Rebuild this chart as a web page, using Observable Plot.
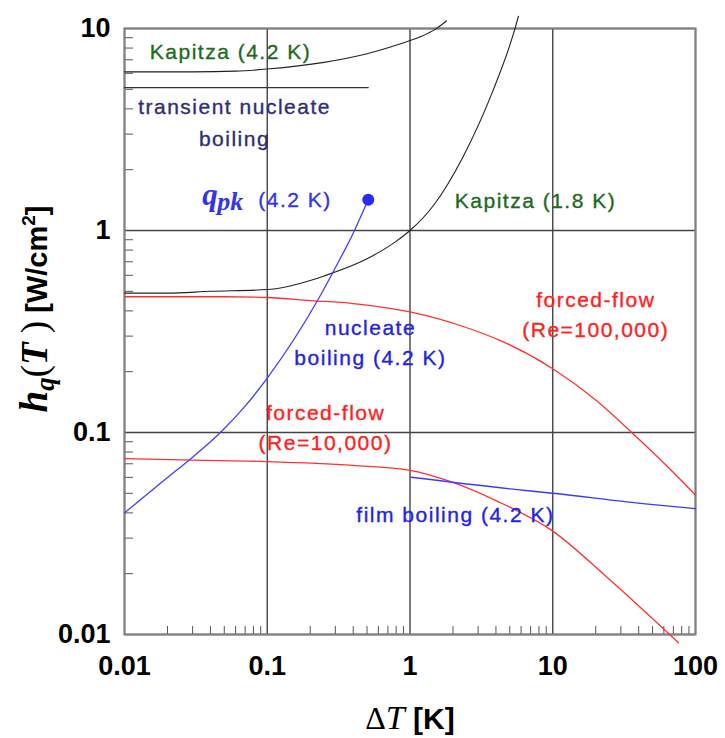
<!DOCTYPE html>
<html><head><meta charset="utf-8">
<script src="https://cdn.jsdelivr.net/npm/d3@7"></script>
<script src="https://cdn.jsdelivr.net/npm/@observablehq/plot@0.6"></script>
<style>
body{margin:0;background:#fff;}
#chart svg{display:block;}
#chart svg g.lbl text{letter-spacing:1.5px;stroke-width:0.35px;}
</style></head><body><div id="chart"></div>
<script>
// ---- tick values and labels ----
const xMajor = [0.01, 0.1, 1, 10, 100];
const xTickLabels = ["0.01", "0.1", "1", "10", "100"];
const yMajor = [0.01, 0.1, 1, 10];
const yTickLabels = ["0.01", "0.1", "1", "10"];
const minorMult = [2, 3, 4, 5, 6, 7, 8, 9];

// ---- series ----
const kap42X = [0.01, 0.03, 0.06, 0.1, 0.25, 0.5, 0.86, 1.18, 1.5, 1.8];
const kap42Y = [6.1, 6.1, 6.15, 6.3, 6.8, 7.5, 8.4, 9.1, 9.9, 10.9];

const kap18X = [0.01, 0.02, 0.04, 0.1, 0.2, 0.251, 0.5, 0.794, 1.0, 1.46, 2.37, 3.85, 5.3, 5.75];
const kap18Y = [0.49, 0.49, 0.5, 0.51, 0.566, 0.596, 0.724, 0.881, 1.0, 1.33, 2.34, 5.01, 9.4, 11.5];

const transX = [0.01, 0.51];
const transY = [5.1, 5.1];

const re100kX = [0.01, 0.05, 0.1, 0.2, 0.4, 1, 2.5, 4.3, 10, 20, 40, 70, 100];
const re100kY = [0.47, 0.47, 0.466, 0.45, 0.435, 0.395, 0.33, 0.285, 0.207, 0.145, 0.0928, 0.0634, 0.049];

const re10kX = [0.01, 0.03, 0.1, 0.4, 1, 2, 4, 10, 24.2, 76];
const re10kY = [0.0743, 0.073, 0.0718, 0.0687, 0.065, 0.0566, 0.046, 0.0325, 0.0191, 0.0091];

const nucX = [0.01, 0.02, 0.03, 0.047, 0.07, 0.1, 0.225, 0.3, 0.4, 0.51];
const nucY = [0.04, 0.0598, 0.0755, 0.1, 0.135, 0.186, 0.45, 0.654, 0.97, 1.42];

const filmX = [1.02, 6.46, 10, 41, 100];
const filmY = [0.060, 0.0516, 0.050, 0.0446, 0.042];

const qpkX = [0.51];
const qpkY = [1.42];

// ---- annotation labels ----
const labelText = ["Kapitza (4.2 K)", "Kapitza (1.8 K)", "forced-flow\n(Re=100,000)", "nucleate\nboiling (4.2 K)", "forced-flow\n(Re=10,000)", "film boiling (4.2 K)"];
const labelX = [0.0553, 7.57, 20, 0.528, 0.256, 2.08];
const labelY = [7.87, 1.44, 0.393, 0.285, 0.108, 0.0402];
const labelColor = ["#1d6a1d", "#1d6a1d", "#ff2020", "#2222e6", "#ff2020", "#2222e6"];
const transLabel = ["transient nucleate\nboiling"];
const transLabelX = [0.059];
const transLabelY = [3.55];
const qpkLabelX = [0.0351];
const qpkLabelY = [1.33];

// minor ticks
const xMinor = [];
for (const e of [-2, -1, 0, 1]) for (const m of minorMult) xMinor.push(+(m * Math.pow(10, e)).toPrecision(3));
const yMinor = [];
for (const e of [-2, -1, 0]) for (const m of minorMult) yMinor.push(+(m * Math.pow(10, e)).toPrecision(3));

const xFmt = new Map(xMajor.map((d, i) => [d, xTickLabels[i]]));
const yFmt = new Map(yMajor.map((d, i) => [d, yTickLabels[i]]));

const pts = (xs, ys) => xs.map((x, i) => ({x, y: ys[i]}));
const sans = "'Liberation Sans', Arial, Helvetica, sans-serif";
const serif = "'Liberation Serif', 'Times New Roman', serif";

const lineOpts = (color, w) => ({x: "x", y: "y", stroke: color, strokeWidth: w, curve: "monotone-x"});

const chart = Plot.plot({
  width: 725, height: 738,
  marginLeft: 124, marginRight: 30, marginTop: 28, marginBottom: 104,
  style: {fontFamily: sans, background: "#fff", overflow: "visible"},
  x: {type: "log", domain: [0.01, 100]},
  y: {type: "log", domain: [0.01, 10]},
  marks: [
    Plot.gridX(xMajor, {stroke: "#444", strokeOpacity: 1, strokeWidth: 1.4}),
    Plot.gridY(yMajor, {stroke: "#444", strokeOpacity: 1, strokeWidth: 1.4}),
    Plot.axisX(xMinor, {tickSize: -8, text: null, stroke: "#555", label: null}),
    Plot.axisY(yMinor, {tickSize: -9, text: null, stroke: "#555", label: null}),
    Plot.axisX(xMajor, {tickSize: 0, tickPadding: 21, tickFormat: d => xFmt.get(d), fontSize: 27, fontWeight: "bold", fill: "#000", label: null}),
    Plot.axisY(yMajor, {tickSize: 0, tickPadding: 14, tickFormat: d => yFmt.get(d), fontSize: 27, fontWeight: "bold", fill: "#000", label: null}),
    Plot.frame({stroke: "#808080", strokeWidth: 2}),
    Plot.line(pts(transX, transY), lineOpts("#333", 1.3)),
    Plot.line(pts(kap42X, kap42Y), lineOpts("#222", 1.1)),
    Plot.line(pts(kap18X, kap18Y), lineOpts("#222", 1.1)),
    Plot.line(pts(re100kX, re100kY), lineOpts("#ff3030", 1.3)),
    Plot.line(pts(re10kX, re10kY), lineOpts("#ff3030", 1.3)),
    Plot.line(pts(nucX, nucY), lineOpts("#4040ff", 1.3)),
    Plot.line(pts(filmX, filmY), lineOpts("#3a3aff", 1.4)),
    Plot.dot(pts(qpkX, qpkY), {x: "x", y: "y", r: 6, fill: "#2a2aff", stroke: "none"}),
    Plot.text(labelText, {x: (d, i) => labelX[i], y: (d, i) => labelY[i], text: d => d, fill: (d, i) => labelColor[i], stroke: (d, i) => labelColor[i], fontSize: 21, lineHeight: 1.43, className: "lbl"}),
    Plot.text(transLabel, {x: transLabelX, y: transLabelY, text: d => d, fill: "#2e2e70", stroke: "#2e2e70", fontSize: 21, lineHeight: 1.55, className: "lbl"}),
    Plot.text(["q"], {x: qpkLabelX, y: qpkLabelY, text: d => d, fill: "#3333ee", fontSize: 31, fontFamily: serif, fontStyle: "italic", fontWeight: "bold", textAnchor: "start", lineAnchor: "bottom"}),
    Plot.text(["pk"], {x: qpkLabelX, y: qpkLabelY, text: d => d, fill: "#3333ee", fontSize: 26, fontFamily: serif, fontStyle: "italic", fontWeight: "bold", textAnchor: "start", lineAnchor: "bottom", dx: 15, dy: 5}),
    Plot.text(["(4.2 K)"], {x: qpkLabelX, y: qpkLabelY, text: d => d, fill: "#3333ee", stroke: "#3333ee", fontSize: 21, textAnchor: "start", lineAnchor: "bottom", dx: 56, dy: 2, className: "lbl"})
  ]
});

document.getElementById("chart").appendChild(chart);

// axis titles with mixed fonts
const svg = d3.select(chart);
const yl = svg.append("text")
  .attr("transform", "translate(47,309) rotate(-90)")
  .attr("text-anchor", "middle").attr("fill", "#000");
yl.append("tspan").attr("font-family", serif).attr("font-style", "italic").attr("font-weight", "bold").attr("font-size", 39).text("h");
yl.append("tspan").attr("font-family", serif).attr("font-style", "italic").attr("font-weight", "bold").attr("font-size", 27).attr("dy", 7).text("q");
yl.append("tspan").attr("font-family", serif).attr("font-size", 37).attr("dy", -7).text("(");
yl.append("tspan").attr("font-family", serif).attr("font-style", "italic").attr("font-weight", "bold").attr("font-size", 37).text("T");
yl.append("tspan").attr("font-family", serif).attr("font-size", 37).text(" )");
yl.append("tspan").attr("font-family", sans).attr("font-weight", "bold").attr("font-size", 29).text(" [W/cm");
yl.append("tspan").attr("font-family", sans).attr("font-weight", "bold").attr("font-size", 19).attr("dy", -12).text("2");
yl.append("tspan").attr("font-family", sans).attr("font-weight", "bold").attr("font-size", 29).attr("dy", 12).text("]");

const xl = svg.append("text")
  .attr("x", 410).attr("y", 729)
  .attr("text-anchor", "middle").attr("fill", "#000");
xl.append("tspan").attr("font-family", serif).attr("font-size", 32).text("Δ");
xl.append("tspan").attr("font-family", serif).attr("font-style", "italic").attr("font-size", 34).text("T");
xl.append("tspan").attr("font-family", sans).attr("font-weight", "bold").attr("font-size", 30).text(" [K]");
</script></body></html>
